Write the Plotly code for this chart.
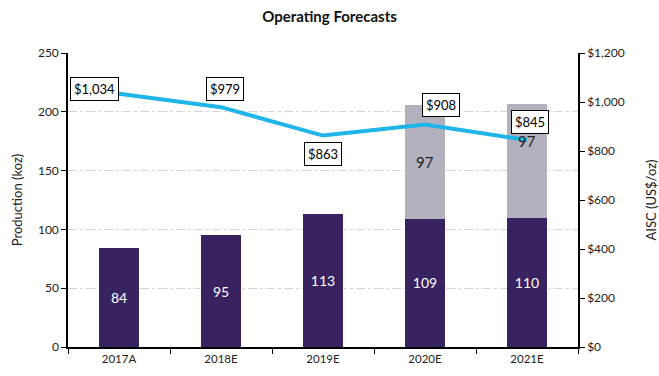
import plotly.graph_objects as go

years = ["2017A", "2018E", "2019E", "2020E", "2021E"]
base_prod = [84, 95, 113, 109, 110]
extra_prod = [0, 0, 0, 97, 97]
aisc = [1034, 979, 863, 908, 845]
aisc_labels = ["$1,034", "$979", "$863", "$908", "$845"]
aisc_ticks = [0, 200, 400, 600, 800, 1000, 1200]
aisc_ticktext = ["$" + format(v, ",") for v in aisc_ticks]
prod_ticks = [0, 50, 100, 150, 200, 250]
# label offsets (pixels) for AISC boxes
lab_dx = [-25, 4, 0, 16, 3]
lab_dy = [5, 18, -18, 20, 18]

PURPLE = "#38225f"
GRAY = "#b2b1bd"
BLUE = "#1fb4ea"
FONT = "Lato"

fig = go.Figure()
fig.add_trace(go.Bar(
    x=years, y=base_prod, marker=dict(color=PURPLE, line=dict(width=0)),
    text=[str(v) for v in base_prod], textposition="inside", insidetextanchor="middle",
    textfont=dict(color="white", size=14, family=FONT), width=0.4, yaxis="y",
    hoverinfo="skip", showlegend=False,
))
fig.add_trace(go.Bar(
    x=years, y=extra_prod, marker=dict(color=GRAY, line=dict(width=0)),
    width=0.4, yaxis="y", hoverinfo="skip", showlegend=False,
))
fig.add_trace(go.Scatter(
    x=years, y=aisc, mode="lines", line=dict(color=BLUE, width=4),
    yaxis="y2", hoverinfo="skip", showlegend=False,
))

annotations = []
for i, (x, v, lab) in enumerate(zip(years, aisc, aisc_labels)):
    annotations.append(dict(
        x=x, y=v, xref="x", yref="y2", text=lab, showarrow=False,
        xshift=lab_dx[i], yshift=lab_dy[i],
        font=dict(size=13, color="black", family=FONT),
        bgcolor="white", bordercolor="black", borderwidth=1, borderpad=3,
    ))
# gray segment labels: 2020E centred in segment, 2021E near top of segment
annotations.append(dict(
    x=years[3], y=base_prod[3] + extra_prod[3] / 2, xref="x", yref="y",
    text=str(extra_prod[3]), showarrow=False,
    font=dict(size=15, color="#222222", family=FONT)))
annotations.append(dict(
    x=years[4], y=base_prod[4] + extra_prod[4], xref="x", yref="y",
    text=str(extra_prod[4]), showarrow=False, yshift=-37,
    font=dict(size=15, color="#222222", family=FONT)))

fig.update_layout(
    width=659, height=376,
    margin=dict(l=68, r=81, t=53, b=29),
    paper_bgcolor="white", plot_bgcolor="white",
    barmode="stack", bargap=0.6,
    font=dict(family=FONT, size=11, color="#222222"),
    title=dict(text="<b>Operating Forecasts</b>", x=0.5, xanchor="center",
               y=0.955, yanchor="middle", font=dict(size=15, color="#111111", family=FONT)),
    xaxis=dict(
        type="category", showline=True, linecolor="black", linewidth=1.5,
        ticks="outside", tickson="boundaries", ticklen=5, tickcolor="black",
        showgrid=False, tickfont=dict(size=11.5, family=FONT),
    ),
    yaxis=dict(
        range=[0, 250], tickvals=prod_ticks,
        showline=True, linecolor="black", linewidth=1.5,
        ticks="outside", ticklen=5, tickcolor="black",
        showgrid=True, gridcolor="#d4d4dc", griddash="dashdot", gridwidth=1,
        zeroline=False, automargin=False,
        title=dict(text="Production (koz)", font=dict(size=13, family=FONT), standoff=12),
        tickfont=dict(size=12, family=FONT),
    ),
    yaxis2=dict(
        range=[0, 1200], tickvals=aisc_ticks, ticktext=aisc_ticktext,
        overlaying="y", side="right",
        showline=True, linecolor="black", linewidth=1.5,
        ticks="outside", ticklen=5, tickcolor="black",
        showgrid=False, zeroline=False, automargin=False,
        title=dict(text="AISC (US$/oz)", font=dict(size=13, family=FONT), standoff=24),
        tickfont=dict(size=12, family=FONT),
    ),
    annotations=annotations,
)

fig.write_html("out.html")
